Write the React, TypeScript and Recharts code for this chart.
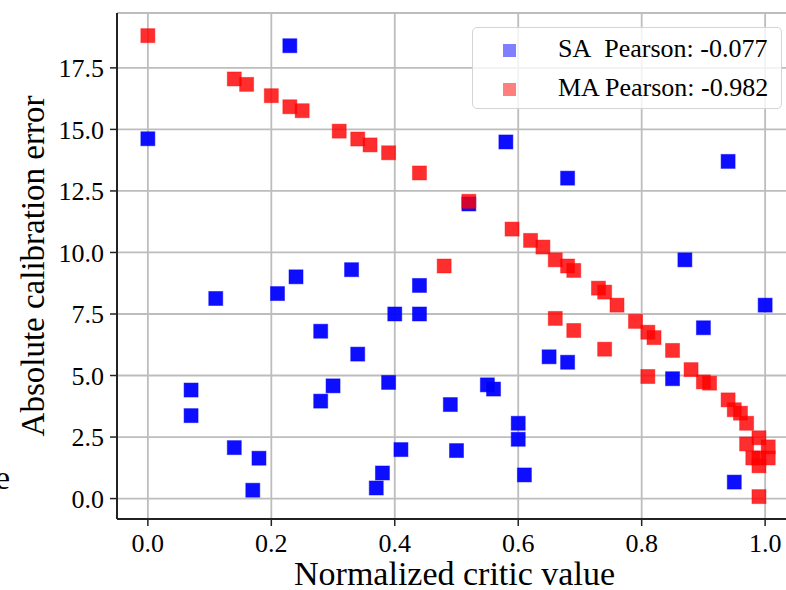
import React from 'react';
import { ScatterChart, Scatter, XAxis, YAxis, CartesianGrid, Legend } from 'recharts';

const FONT = '"Liberation Serif", "Times New Roman", serif';

// SA series (blue)
const saX = [0.0, 0.07, 0.07, 0.11, 0.14, 0.17, 0.18, 0.21, 0.23, 0.24, 0.28, 0.28, 0.30, 0.33, 0.34, 0.37, 0.38, 0.39, 0.40, 0.41, 0.44, 0.44, 0.49, 0.50, 0.52, 0.55, 0.56, 0.58, 0.60, 0.60, 0.61, 0.65, 0.68, 0.68, 0.85, 0.87, 0.90, 0.94, 0.95, 1.0];
const saY = [14.62, 4.41, 3.37, 8.13, 2.07, 0.34, 1.64, 8.33, 18.40, 9.01, 6.80, 3.96, 4.58, 9.30, 5.87, 0.43, 1.04, 4.72, 7.50, 1.99, 8.66, 7.50, 3.82, 1.95, 11.97, 4.62, 4.45, 14.49, 3.06, 2.41, 0.96, 5.76, 13.02, 5.54, 4.87, 9.70, 6.94, 13.70, 0.67, 7.86];

// MA series (red)
const maX = [0.0, 0.14, 0.16, 0.20, 0.23, 0.25, 0.31, 0.34, 0.36, 0.39, 0.44, 0.48, 0.52, 0.59, 0.62, 0.64, 0.66, 0.68, 0.69, 0.66, 0.69, 0.73, 0.74, 0.76, 0.74, 0.79, 0.81, 0.82, 0.81, 0.85, 0.88, 0.90, 0.91, 0.94, 0.95, 0.96, 0.97, 0.97, 0.99, 1.005, 0.98, 0.99, 1.005, 0.99, 0.99];
const maY = [18.81, 17.05, 16.83, 16.37, 15.92, 15.76, 14.93, 14.61, 14.37, 14.05, 13.23, 9.45, 12.08, 10.95, 10.49, 10.22, 9.70, 9.45, 9.27, 7.32, 6.83, 8.55, 8.39, 7.86, 6.07, 7.20, 6.76, 6.54, 4.96, 6.02, 5.24, 4.74, 4.69, 4.01, 3.61, 3.47, 3.06, 2.22, 2.47, 2.10, 1.65, 1.65, 1.65, 1.33, 0.08];

const xTicks = [0, 0.2, 0.4, 0.6, 0.8, 1.0];
const yTicks = [0, 2.5, 5, 7.5, 10, 12.5, 15, 17.5];
const xDomain = [-0.05, 1.05];
const yDomain = [-0.83, 19.73];

const saName = 'SA\u00a0\u00a0Pearson: -0.077';
const maName = 'MA Pearson: -0.982';
const seriesNames = [saName, maName];
const xTitle = 'Normalized critic value';
const yTitle = 'Absolute calibration error';

const saData = saX.map((x, i) => ({ x, y: saY[i] }));
const maData = maX.map((x, i) => ({ x, y: maY[i] }));

const BLUE = '#0000ff';
const RED = '#ff0000';
const seriesColors = [BLUE, RED];

const makeSquare = (fill: string, opacity: number) => (props: any) => {
  const { cx, cy } = props;
  if (cx == null || cy == null) return <g />;
  return (
    <rect
      x={cx - 7}
      y={cy - 7}
      width={14}
      height={14}
      fill={fill}
      fillOpacity={opacity}
      stroke={fill}
      strokeOpacity={opacity * 0.5}
      strokeWidth={1}
    />
  );
};

const renderLegend = () => {
  return (
    <div
      style={{
        width: 310,
        height: 82,
        boxSizing: 'border-box',
        border: '1.5px solid #d4d4d4',
        borderRadius: 5,
        background: 'rgba(255,255,255,0.8)',
        position: 'relative',
        fontFamily: FONT,
        fontSize: 26,
      }}
    >
      {seriesNames.map((name, i) => (
        <div
          key={i}
          style={{
            position: 'absolute',
            left: 0,
            top: i === 0 ? 2 : 41,
            height: 38,
            display: 'flex',
            alignItems: 'center',
            whiteSpace: 'pre',
          }}
        >
          <span
            style={{
              display: 'inline-block',
              width: 13,
              height: 13,
              marginLeft: 30,
              marginTop: 3,
              background: seriesColors[i],
              opacity: 0.5,
            }}
          />
          <span style={{ marginLeft: 42, color: '#000', lineHeight: '38px', fontFamily: FONT }}>{name}</span>
        </div>
      ))}
    </div>
  );
};

const XTitle = (props: any) => {
  const vb = props.viewBox || { x: 117, y: 519, width: 679, height: 71 };
  return (
    <text x={vb.x + vb.width / 2 - 2} y={585} textAnchor="middle" style={{ fontFamily: FONT }} fontSize={34} fill="#000">
      {xTitle}
    </text>
  );
};

const YTitle = (props: any) => {
  const vb = props.viewBox || { x: 0, y: 13, width: 117, height: 506 };
  const cx = 33;
  const cy = vb.y + vb.height / 2;
  return (
    <text
      x={cx}
      y={cy}
      transform={`rotate(-90, ${cx}, ${cy})`}
      textAnchor="middle"
      dominantBaseline="central"
      style={{ fontFamily: FONT }}
      fontSize={33}
      fill="#000"
    >
      {yTitle}
    </text>
  );
};

const tickStyle = { fontFamily: FONT, fontSize: 26, fill: '#000', style: { fontFamily: FONT } };
const spine = { stroke: '#222', strokeWidth: 2 };

export default function App() {
  return (
    <div
      style={{
        position: 'fixed',
        left: 0,
        top: 0,
        width: 786,
        height: 590,
        overflow: 'hidden',
        background: '#fff',
        fontFamily: FONT,
      }}
    >
      <svg style={{ position: 'absolute', left: 0, top: 0 }} width={20} height={590}>
        <text x={10} y={489} textAnchor="end" style={{ fontFamily: FONT }} fontSize={34} fill="#000">e</text>
      </svg>
      <ScatterChart
        width={800}
        height={590}
        margin={{ top: 13, right: 4, bottom: 0, left: 0 }}
        style={{ fontFamily: FONT }}
      >
        <CartesianGrid stroke="#bdbdbd" strokeWidth={1.8} />
        <XAxis
          type="number"
          dataKey="x"
          domain={xDomain}
          ticks={xTicks}
          allowDataOverflow
          tickFormatter={(v: number) => v.toFixed(1)}
          tick={tickStyle}
          tickSize={7}
          tickMargin={8}
          tickLine={{ stroke: '#222', strokeWidth: 1.5 }}
          axisLine={spine}
          height={71}
          label={XTitle}
        />
        <XAxis
          xAxisId="top"
          orientation="top"
          type="number"
          domain={xDomain}
          allowDataOverflow
          tick={false}
          tickLine={false}
          axisLine={spine}
          height={0}
        />
        <YAxis
          type="number"
          dataKey="y"
          domain={yDomain}
          ticks={yTicks}
          allowDataOverflow
          tickFormatter={(v: number) => v.toFixed(1)}
          tick={tickStyle}
          tickSize={7}
          tickMargin={6}
          tickLine={{ stroke: '#222', strokeWidth: 1.5 }}
          axisLine={spine}
          width={117}
          label={YTitle}
        />
        <Legend
          layout="horizontal"
          verticalAlign="middle"
          align="center"
          content={renderLegend}
          wrapperStyle={{ left: 472, top: 27, width: 310, height: 82 }}
        />
        <Scatter
          name={saName}
          data={saData}
          fill={BLUE}
          shape={makeSquare(BLUE, 0.95)}
          isAnimationActive={false}
        />
        <Scatter
          name={maName}
          data={maData}
          fill={RED}
          shape={makeSquare(RED, 0.82)}
          isAnimationActive={false}
        />
      </ScatterChart>
    </div>
  );
}
